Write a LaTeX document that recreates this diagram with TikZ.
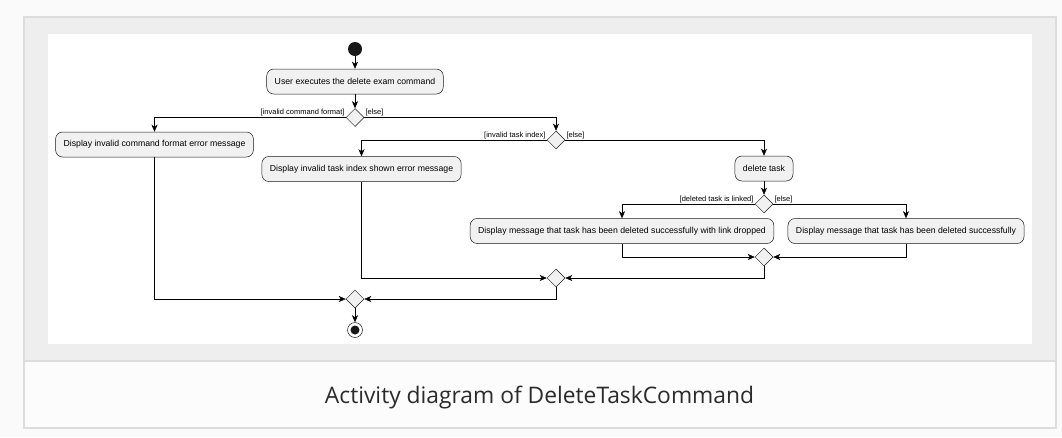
\documentclass[tikz,border=0pt]{standalone}
\usepackage{fontspec}
\setmainfont{Liberation Sans}
\newfontfamily\capfont{Open Sans}
\usetikzlibrary{shapes.geometric,arrows.meta}
\definecolor{umlfill}{HTML}{F1F1F1}
\definecolor{umlline}{HTML}{181818}
\definecolor{pagebg}{HTML}{FAFAFA}
\definecolor{panelgray}{HTML}{EEEEEE}
\definecolor{framegray}{HTML}{DDDDDD}
\definecolor{capbg}{HTML}{FCFCFC}
\definecolor{captext}{HTML}{2B2B2B}
\tikzset{
    action/.style={draw=umlline, fill=umlfill, rounded corners=7pt, minimum height=25pt, inner xsep=8pt, font=\fontsize{8.7}{10}\selectfont},
    branch/.style={diamond, draw=umlline, fill=umlfill, minimum size=18pt, inner sep=0pt, aspect=1},
    guard/.style={font=\fontsize{7.5}{9}\selectfont, inner sep=1pt},
}
\begin{document}
\begin{tikzpicture}[x=1pt, y=-1pt, line width=0.5pt, >={Stealth[length=7pt,width=6pt,inset=2pt]}]
                % frame and caption
                \fill[pagebg] (0,0) rectangle (1062,437);
                \filldraw[fill=panelgray, draw=framegray, line width=1.5pt] (24,17) rectangle (1056,361);
                \fill[white] (48,34) rectangle (1032,344);
                \filldraw[fill=capbg, draw=framegray, line width=1.5pt] (24,361) rectangle (1056,428);
                \node[font=\capfont\fontsize{22.8}{26}\selectfont, text=captext, anchor=base] (caption) at (539.5,403) {Activity diagram of DeleteTaskCommand};

                \node[circle, fill=umlline, minimum size=14pt, inner sep=0pt] (start) at (355,49) {};
                \node[action] (act) at (355,81.5) {User executes the delete exam command};
                \node[branch] (d1) at (355,117.5) {};
                \node[action] (fmt) at (154.5,144.5) {Display invalid command format error message};
                \node[branch] (d2) at (556,140) {};
                \node[action] (idx) at (361.5,169) {Display invalid task index shown error message};
                \node[action] (del) at (764,168.5) {delete task};
                \node[branch] (d3) at (764,204) {};
                \node[action] (lnk) at (622,231) {Display message that task has been deleted successfully with link dropped};
                \node[action] (ok) at (906,231) {Display message that task has been deleted successfully};
                \node[branch] (m1) at (764,257) {};
                \node[branch] (m2) at (556,278) {};
                \node[branch] (m3) at (355,299) {};
                \node[circle, draw=umlline, fill=white, minimum size=15pt, inner sep=0pt] (stop) at (355,330) {};
                \fill[umlline] (stop.center) circle (4.5pt);

                \node[guard, anchor=south east] (g1) at (d1.west) {[invalid command format]};
                \node[guard, anchor=south west] (g2) at (d1.east) {[else]};
                \node[guard, anchor=south east] (g3) at (d2.west) {[invalid task index]};
                \node[guard, anchor=south west] (g4) at (d2.east) {[else]};
                \node[guard, anchor=south east] (g5) at (d3.west) {[deleted task is linked]};
                \node[guard, anchor=south west] (g6) at (d3.east) {[else]};

                \draw[->] (start) -- (act); \draw[->] (act) -- (d1);
                \draw[->] (d1) -| (fmt); \draw[->] (d1) -| (d2);
                \draw[->] (d2) -| (idx); \draw[->] (d2) -| (del);
                \draw[->] (del) -- (d3);
                \draw[->] (d3) -| (lnk); \draw[->] (d3) -| (ok);
                \draw[->] (lnk) |- (m1); \draw[->] (ok) |- (m1);
                \draw[->] (idx) |- (m2); \draw[->] (m1) |- (m2);
                \draw[->] (fmt) |- (m3); \draw[->] (m2) |- (m3);
                \draw[->] (m3) -- (stop);
            \end{tikzpicture}
\end{document}
